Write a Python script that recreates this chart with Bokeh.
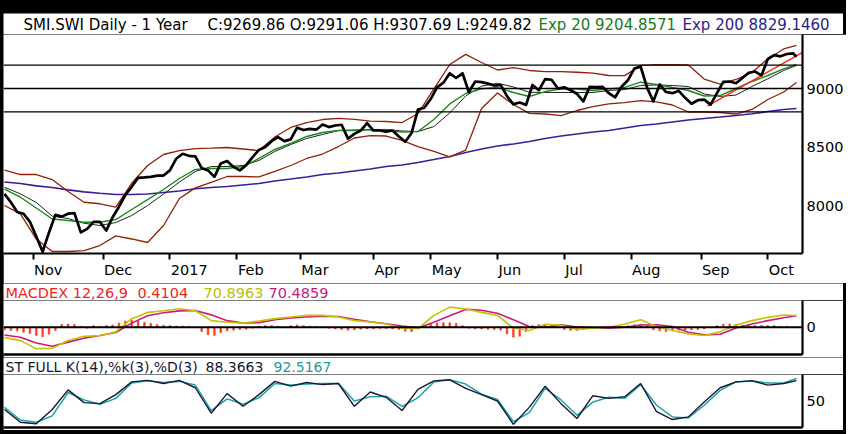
from bokeh.plotting import figure
from bokeh.models import (Range1d, FixedTicker, LinearAxis, Span, Label,
                          CustomJSTickFormatter, Spacer)
from bokeh.layouts import column, row
from bokeh.embed import file_html
from bokeh.resources import INLINE

# ---------------- data (trading-day index 0 = 19 Oct 2016) ----------------
month_ticks = [9, 31, 52, 73, 93, 116, 134, 155, 176, 197, 219, 240]
month_labels = ["Nov", "Dec", "2017", "Feb", "Mar", "Apr", "May", "Jun",
                "Jul", "Aug", "Sep", "Oct"]
price_ticks = [8000, 8500, 9000]
levels = [9200, 9000, 8800]
macd_ticks = [0]
stoch_ticks = [50]

close_days = list(range(0, 249, 2)) + [249]
close = [8100, 8028, 7945, 7930, 7860, 7735, 7605, 7770, 7920, 7905,
         7930, 7935, 7770, 7800, 7860, 7860, 7786, 7900, 7990, 8090,
         8160, 8237, 8240, 8245, 8255, 8256, 8300, 8400, 8442, 8425,
         8420, 8320, 8300, 8245, 8360, 8380, 8330, 8300, 8345, 8413,
         8475, 8500, 8550, 8585, 8550, 8565, 8665, 8645, 8655, 8648,
         8692, 8670, 8684, 8690, 8572, 8612, 8640, 8705, 8641, 8641,
         8630, 8641, 8590, 8545, 8620, 8820, 8835, 8910, 9010, 9050,
         9130, 9090, 9130, 8970, 9060, 9054, 9042, 9025, 9030, 8935,
         8865, 8880, 8860, 9030, 8985, 9080, 9075, 9000, 9010, 8985,
         8955, 8890, 9015, 9012, 9015, 8960, 8925, 9015, 9070, 9170,
         9188, 9010, 8890, 9035, 8970, 8960, 8980, 8920, 8870, 8900,
         8905, 8862, 8960, 9056, 9060, 9045, 9090, 9135, 9145, 9112,
         9252, 9285, 9275, 9295, 9300, 9270]

ind_days = list(range(0, 246, 5)) + [249]
ema20 = [8141, 8071, 7979, 7885, 7872, 7857, 7857, 7880, 7966, 8051,
         8137, 8231, 8308, 8316, 8316, 8333, 8402, 8479, 8530, 8590,
         8624, 8641, 8641, 8647, 8641, 8627, 8632, 8735, 8868, 8957,
         8998, 9010, 8966, 8932, 8974, 8997, 8996, 8983, 8997, 9009,
         9054, 9034, 9009, 8983, 8936, 8940, 9000, 9060, 9111, 9167,
         9205]
sma20 = [8156, 8100, 8026, 7910, 7889, 7849, 7829, 7855, 7915, 8000,
         8098, 8201, 8291, 8333, 8333, 8342, 8385, 8462, 8521, 8573,
         8607, 8641, 8645, 8650, 8650, 8637, 8632, 8675, 8791, 8936,
         9020, 9045, 9013, 8968, 8966, 8966, 8966, 8966, 8983, 8991,
         9026, 9030, 9026, 9017, 8953, 8932, 8944, 9017, 9083, 9154,
         9197]
bb_upper = [8303, 8265, 8265, 8222, 8120, 8028, 8015, 7986, 8190, 8342,
            8436, 8470, 8487, 8491, 8496, 8483, 8470, 8585, 8667, 8709,
            8735, 8745, 8737, 8721, 8718, 8709, 8786, 8997, 9205, 9292,
            9222, 9158, 9179, 9154, 9145, 9145, 9139, 9132, 9111, 9110,
            9197, 9203, 9203, 9201, 9081, 9038, 9077, 9137, 9254, 9338,
            9368]
bb_lower = [8000, 7929, 7713, 7607, 7607, 7615, 7658, 7741, 7714, 7684,
            7829, 8060, 8151, 8197, 8248, 8248, 8244, 8291, 8342, 8402,
            8440, 8504, 8577, 8598, 8594, 8556, 8504, 8462, 8415, 8474,
            8829, 8962, 8863, 8788, 8782, 8769, 8812, 8846, 8868, 8880,
            8897, 8886, 8859, 8799, 8799, 8795, 8782, 8821, 8906, 8970,
            9051]
ema200 = [8201, 8188, 8168, 8154, 8134, 8117, 8105, 8094, 8094, 8098,
          8111, 8124, 8143, 8154, 8162, 8175, 8188, 8209, 8226, 8244,
          8265, 8278, 8295, 8312, 8333, 8346, 8368, 8393, 8419, 8453,
          8483, 8509, 8526, 8547, 8573, 8594, 8611, 8628, 8641, 8662,
          8684, 8697, 8714, 8731, 8744, 8756, 8769, 8784, 8803, 8821,
          8829]
trend_days = [221, 251]
trend_vals = [8850, 9310]

macd_line = [-62, -81, -130, -128, -80, -55, -50, -28, 52, 90,
             100, 112, 100, 40, 30, 25, 38, 52, 62, 73,
             72, 62, 40, 32, 20, -5, -8, 72, 122, 111,
             90, 72, -5, -20, 18, 12, -13, -6, 0, 20,
             45, 4, -20, -40, -50, -28, 14, 40, 60, 74,
             71]
macd_signal = [-47, -61, -95, -115, -90, -66, -50, -32, 25, 70,
               88, 99, 101, 75, 40, 25, 28, 45, 56, 62,
               67, 65, 48, 33, 21, 8, -4, 30, 70, 108,
               103, 85, 45, 5, 0, 15, 2, -3, -6, 0,
               14, 15, 5, -30, -46, -42, -5, 20, 40, 58,
               70]
hist_days = list(range(0, 249, 2))
macd_hist = [-16, -20, -22, -30, -38, -50, -58, -42, -20, 16,
             20, 16, 6, -6, 10, 6, 10, 14, 26, 38,
             42, 38, 30, 24, 16, 12, 10, 8, 8, 6,
             0, -26, -46, -50, -34, -22, -18, -14, -12, -6,
             6, 10, 10, 6, 0, 10, 14, 10, 6, 6,
             2, -6, -10, -14, -18, -16, -12, -10, -10, -8,
             -8, -10, -14, -24, -26, -10, 10, 20, 26, 28,
             28, 24, 10, -6, -10, -10, -12, -14, -18, -40,
             -60, -54, -26, 10, 16, 14, 10, 0, -14, -20,
             -20, -14, -6, -2, -4, -6, -2, 4, 10, 16,
             18, 6, -16, -22, -26, -22, -18, -16, -16, -14,
             -10, -2, 10, 18, 20, 18, 14, 14, 10, 10,
             10, 10, 6, 6, 2]

stoch_k = [34, 10, 7, 34, 71, 47, 45, 62, 86, 89,
           83, 89, 75, 27, 64, 40, 62, 87, 78, 85,
           81, 83, 40, 67, 57, 32, 72, 88, 90, 74,
           62, 50, 6, 38, 78, 45, 17, 60, 55, 58,
           83, 30, 15, 20, 48, 75, 86, 88, 80, 83,
           88.4]
stoch_d = [38, 14, 10, 22, 66, 52, 44, 55, 84, 88,
           85, 87, 80, 32, 54, 44, 56, 83, 80, 82,
           83, 83, 50, 58, 59, 40, 56, 86, 90, 82,
           63, 53, 11, 28, 74, 52, 23, 48, 57, 55,
           81, 42, 20, 18, 42, 70, 86, 88, 84, 84,
           92.5]

main_title = [("SMI.SWI Daily -  1 Year", "#000000", 20),
              ("C:9269.86 O:9291.06 H:9307.69 L:9249.82", "#000000", 204),
              ("Exp 20 9204.8571", "#197a19", 535),
              ("Exp 200 8829.1460", "#2c1a8c", 679)]
macd_title = [("MACDEX 12,26,9", "#f2231b", 2),
              ("0.4104", "#f2231b", 134),
              ("70.8963", "#bdbd00", 200),
              ("70.4859", "#c9177e", 265)]
stoch_title = [("ST FULL K(14),%k(3),%D(3)", "#15153a", 2),
               ("88.3663", "#15153a", 202),
               ("92.5167", "#1a9c9c", 270)]

# ---------------- layout constants ----------------
FONT = "DejaVu Sans"
X_LO, X_HI = -0.31, 250.9
FRAME_W = 799
RIGHT_W = 41
PX_PER_DAY = FRAME_W / (X_HI - X_LO)
TICK_FS = 14.5

CHAR_EM = {"N": .748, "o": .612, "v": .592, "D": .770, "e": .615, "c": .550,
           "2": .636, "0": .636, "1": .636, "7": .636, "F": .575, "b": .635,
           "M": .863, "a": .613, "r": .411, "A": .684, "p": .635, "y": .592,
           "J": .295, "u": .634, "n": .634, "l": .278, "g": .635, "S": .635,
           "O": .787, "t": .392}


def text_w(s, fs):
    return sum(CHAR_EM.get(ch, 0.6) for ch in s) * fs


def base_fig(frame_h, y_lo, y_hi, bottom, yticks):
    p = figure(frame_width=FRAME_W, frame_height=frame_h,
               x_range=Range1d(X_LO, X_HI), y_range=Range1d(y_lo, y_hi),
               y_axis_location="right", output_backend="svg",
               toolbar_location=None, min_border_left=0,
               min_border_right=RIGHT_W, min_border_top=0,
               min_border_bottom=bottom)
    p.grid.visible = False
    p.outline_line_color = None
    p.background_fill_color = "white"
    p.border_fill_color = "white"
    ya = p.yaxis[0]
    ya.ticker = FixedTicker(ticks=yticks)
    ya.axis_line_color = "black"
    ya.axis_line_width = 2.2
    ya.major_tick_line_color = None
    ya.minor_tick_line_color = None
    ya.major_tick_out = 0
    ya.major_tick_in = 0
    ya.major_label_standoff = 4
    ya.major_label_text_font = FONT
    ya.major_label_text_font_size = f"{TICK_FS}px"
    ya.major_label_text_color = "black"
    return p


def title_fig(h, parts, y_mid, fs):
    t = figure(frame_width=FRAME_W + RIGHT_W, frame_height=h,
               x_range=Range1d(0, 1), y_range=Range1d(0, 1),
               x_axis_location=None, y_axis_location=None,
               output_backend="svg", toolbar_location=None, min_border=0,
               min_border_left=0, min_border_right=0, min_border_top=0,
               min_border_bottom=0)
    t.grid.visible = False
    t.outline_line_color = None
    t.background_fill_color = "white"
    t.border_fill_color = "white"
    for text, color, x in parts:
        t.add_layout(Label(x=x, y=y_mid, x_units="screen",
                           y_units="screen", text=text, text_color=color,
                           text_font=FONT, text_font_size=fs,
                           text_baseline="middle", text_align="left"))
    return t


def bare_bottom_axis(p):
    xa = p.xaxis[0]
    xa.ticker = FixedTicker(ticks=[])
    xa.axis_line_color = "black"
    xa.axis_line_width = 2.5
    xa.major_tick_out = 0
    xa.major_tick_in = 0
    xa.major_tick_line_color = None
    xa.minor_tick_line_color = None
    xa.major_label_standoff = 0


# ---------------- main price panel ----------------
t1 = title_fig(21, main_title, 10, "15px")
p1 = base_fig(219, 7590, 9461.5, 30, price_ticks)
xa = p1.xaxis[0]
xa.ticker = FixedTicker(ticks=month_ticks)
xa.formatter = CustomJSTickFormatter(code="return '';")
xa.axis_line_color = "black"
xa.axis_line_width = 2.2
xa.major_tick_line_color = "black"
xa.major_tick_line_width = 2
xa.major_tick_out = 6
xa.major_tick_in = 0
xa.minor_tick_line_color = None
xa.major_label_text_font_size = "0px"
xa.major_label_standoff = 0

label_pos = [round(t + (text_w(s, TICK_FS) / 2 + 1) / PX_PER_DAY, 3)
             for t, s in zip(month_ticks, month_labels)]
lab_axis = LinearAxis(
    ticker=FixedTicker(ticks=label_pos),
    formatter=CustomJSTickFormatter(
        args=dict(pos=label_pos, names=month_labels),
        code="const k = pos.findIndex(v => Math.abs(v - tick) < 0.01);"
             "return k >= 0 ? names[k] : '';"),
    axis_line_color=None, major_tick_line_color=None,
    minor_tick_line_color=None, major_tick_out=0, major_tick_in=0,
    major_label_standoff=2, major_label_text_font=FONT,
    major_label_text_font_size=f"{TICK_FS}px", major_label_text_color="black")
p1.add_layout(lab_axis, "below")

for lv in levels:
    p1.add_layout(Span(location=lv, dimension="width", line_color="black",
                       line_width=1.3))

p1.line(ind_days, ema200, line_color="#3a1e9e", line_width=1.6)
p1.line(ind_days, bb_upper, line_color="#932008", line_width=1.3)
p1.line(ind_days, bb_lower, line_color="#932008", line_width=1.3)
p1.line(ind_days, sma20, line_color="#222222", line_width=1.0)
p1.line(ind_days, ema20, line_color="#1b8a1b", line_width=1.4)
p1.line(trend_days, trend_vals, line_color="#ff2a1a", line_width=1.4)
p1.line(close_days, close, line_color="black", line_width=2.7,
        line_join="round")

# ---------------- MACD panel ----------------
t2 = title_fig(17, macd_title, 8, "14.5px")
p2 = base_fig(54, -165, 162, 3, macd_ticks)
bare_bottom_axis(p2)
p2.add_layout(Span(location=0, dimension="width", line_color="black",
                   line_width=2.2))
p2.vbar(x=hist_days, top=macd_hist, bottom=0, width=0.55,
        fill_color="#ff3b1f", line_color="#ff3b1f", line_width=0.5)
p2.line(ind_days, macd_signal, line_color="#d0197f", line_width=1.6)
p2.line(ind_days, macd_line, line_color="#c4c400", line_width=1.6)

# ---------------- Stochastic panel ----------------
t3 = title_fig(17, stoch_title, 8, "14px")
p3 = base_fig(53, 0, 100, 3, stoch_ticks)
bare_bottom_axis(p3)
p3.line(ind_days, stoch_d, line_color="#1fa3a3", line_width=1.5)
p3.line(ind_days, stoch_k, line_color="#17173d", line_width=1.4)

inner = column(Spacer(width=FRAME_W + RIGHT_W, height=13),
               t1, p1, t2, p2, t3, p3, spacing=0)
layout = row(Spacer(width=3, height=434), inner, spacing=0,
             styles={"background-color": "black"})

open("out.html", "w").write(file_html(layout, INLINE))
